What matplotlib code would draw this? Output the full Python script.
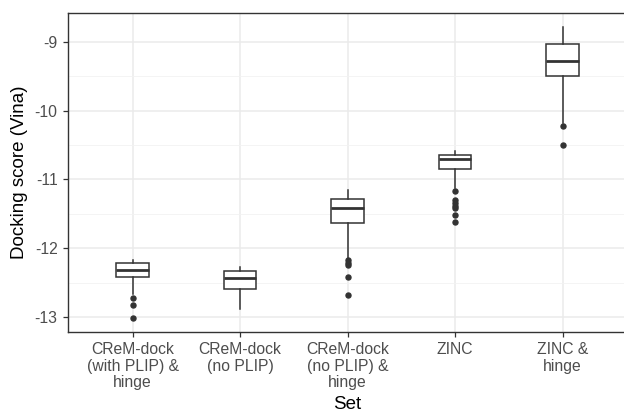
import matplotlib
matplotlib.use("Agg")
import matplotlib.pyplot as plt
from matplotlib.ticker import MultipleLocator

plt.rcParams['font.family'] = ['Liberation Sans', 'DejaVu Sans']

sets = ["CReM-dock\n(with PLIP) &\nhinge", "CReM-dock\n(no PLIP)",
        "CReM-dock\n(no PLIP) &\nhinge", "ZINC", "ZINC &\nhinge"]
whis_lo = [-12.67, -12.88, -12.16, -11.12, -10.18]
q1 = [-12.42, -12.59, -11.63, -10.85, -9.50]
med = [-12.32, -12.43, -11.42, -10.70, -9.28]
q3 = [-12.22, -12.33, -11.28, -10.64, -9.03]
whis_hi = [-12.17, -12.27, -11.15, -10.59, -8.79]
outliers = [
    [-12.73, -12.83, -13.01],
    [],
    [-12.17, -12.21, -12.24, -12.42, -12.68],
    [-11.17, -11.30, -11.34, -11.38, -11.42, -11.52, -11.62],
    [-10.23, -10.50],
]

stats = []
for i in range(len(sets)):
    stats.append({"whislo": whis_lo[i], "q1": q1[i], "med": med[i], "q3": q3[i],
                  "whishi": whis_hi[i], "fliers": outliers[i]})

fig = plt.figure(figsize=(6.24, 4.13), dpi=100)
ax = fig.add_axes([68 / 624, 1 - 332 / 413, 559 / 624, 319 / 413])

dark = "#333333"
ax.bxp(stats, positions=range(1, len(sets) + 1), widths=0.3, patch_artist=True,
       boxprops=dict(facecolor="white", edgecolor=dark, linewidth=1.1),
       medianprops=dict(color=dark, linewidth=2.0),
       whiskerprops=dict(color=dark, linewidth=1.1),
       capprops=dict(linewidth=0),
       flierprops=dict(marker="o", markerfacecolor=dark, markeredgecolor=dark,
                       markersize=3.6, linestyle="none"),
       zorder=3)

ax.set_xlim(0.4, 5.6)
ax.set_ylim(-13.22, -8.58)
ax.set_xticks(range(1, len(sets) + 1))
ax.set_xticklabels(sets, linespacing=1.12)
ax.set_yticks([-13, -12, -11, -10, -9])
ax.set_yticklabels(["-13", "-12", "-11", "-10", "-9"])
ax.yaxis.set_minor_locator(MultipleLocator(0.5))

ax.grid(True, which="major", color="#EBEBEB", linewidth=1.1, zorder=0)
ax.grid(True, which="minor", axis="y", color="#F2F2F2", linewidth=0.6, zorder=0)
ax.set_axisbelow(True)

ax.tick_params(axis="both", which="major", colors=dark, labelcolor="#4D4D4D",
               labelsize=11.3, length=3.5, width=0.9, pad=4)
ax.tick_params(axis="y", which="minor", length=0)
for s in ax.spines.values():
    s.set_color(dark)
    s.set_linewidth(1.0)

ax.set_xlabel("Set", fontsize=13.5, color="black", labelpad=4)
ax.set_ylabel("Docking score (Vina)", fontsize=13.5, color="black", labelpad=5)

fig.savefig("out.png", dpi=100)
